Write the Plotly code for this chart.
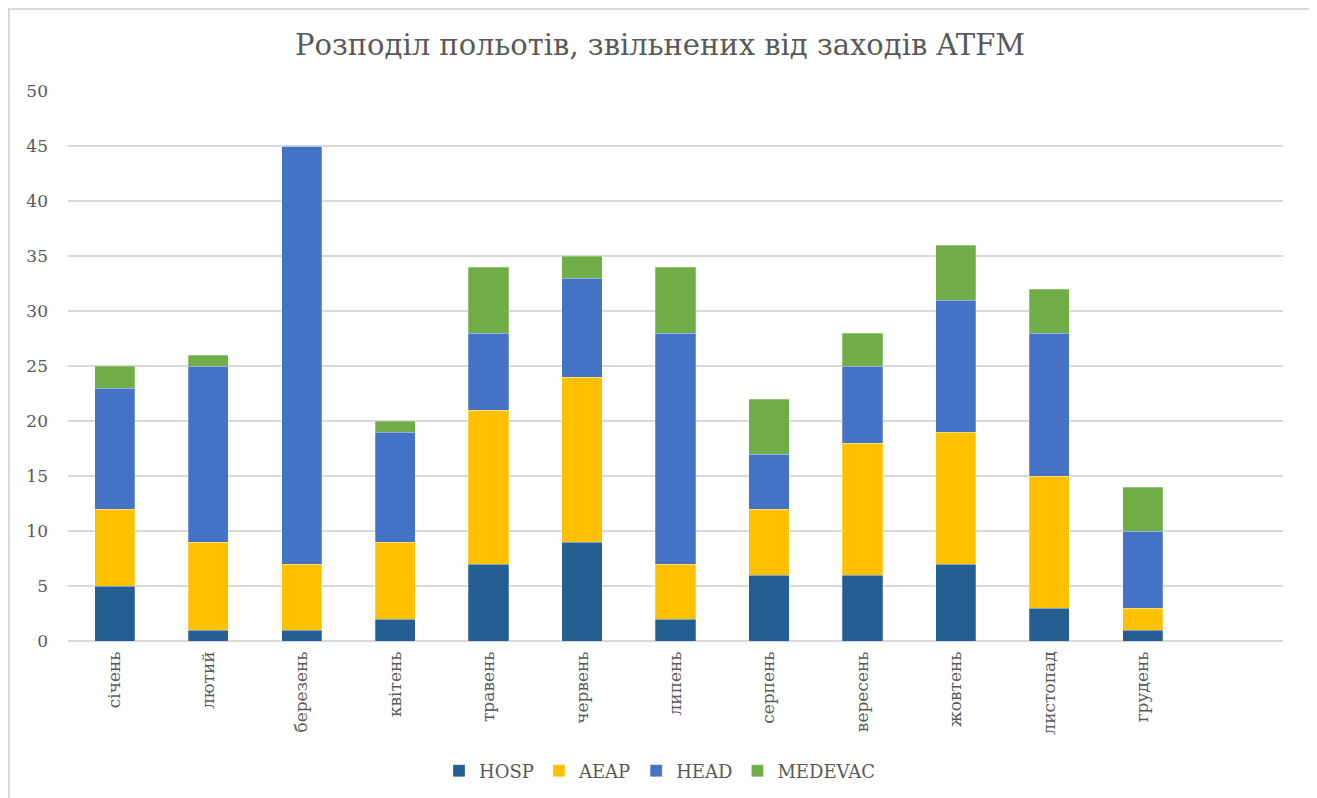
import plotly.graph_objects as go

months = ["січень", "лютий", "березень", "квітень", "травень", "червень",
          "липень", "серпень", "вересень", "жовтень", "листопад", "грудень"]
hosp = [5, 1, 1, 2, 7, 9, 2, 6, 6, 7, 3, 1]
aeap = [7, 8, 6, 7, 14, 15, 5, 6, 12, 12, 12, 2]
head = [11, 16, 38, 10, 7, 9, 21, 5, 7, 12, 13, 7]
medevac = [2, 1, 0, 1, 6, 2, 6, 5, 3, 5, 4, 4]

series = [("HOSP", hosp, "#255E91"), ("AEAP", aeap, "#FFC000"),
          ("HEAD", head, "#4472C4"), ("MEDEVAC", medevac, "#70AD47")]

fig = go.Figure()
for name, vals, col in series:
    fig.add_trace(go.Bar(x=list(range(len(months))), y=vals, name=name,
                         marker=dict(color=col, line=dict(color="rgba(255,255,255,0.5)", width=0.5))))

font = "DejaVu Serif"
off = 8  # page body margin
W, H = 1317 - off, 798 - off
L, R, T, B = 68 - off, 1317 - 1283, 91 - off, 798 - 641
pw, ph = W - L - R, H - T - B

fig.update_layout(
    width=W, height=H, barmode="stack", bargap=0.57,
    plot_bgcolor="white", paper_bgcolor="white",
    margin=dict(l=L, r=R, t=T, b=B, autoexpand=False),
    font=dict(family=font, color="#595959", size=17),
    title=dict(text="Розподіл польотів, звільнених від заходів ATFM",
               x=(660 - off) / W, xanchor="center", y=1 - (45 - off) / H, yanchor="middle",
               font=dict(family=font, size=29, color="#595959")),
    xaxis=dict(tickmode="array", tickvals=list(range(len(months))), ticktext=months,
               range=[-0.5, 12.5], tickangle=-90, showgrid=False, showline=False,
               ticks="", automargin=False, ticklabelstandoff=6,
               tickfont=dict(family=font, size=17, color="#595959")),
    yaxis=dict(range=[0, 50], dtick=5, showgrid=True, gridcolor="#D9D9D9", gridwidth=1.5,
               zeroline=True, zerolinecolor="#D9D9D9", zerolinewidth=1.5, automargin=False,
               ticks="", tickfont=dict(family=font, size=17, color="#595959"), ticklabelstandoff=19),
    legend=dict(orientation="h", x=(660 - 68) / pw, xanchor="center", y=-(771 - 641) / ph, yanchor="middle",
                font=dict(family=font, size=18, color="#595959"), traceorder="normal"),
    shapes=[dict(type="rect", xref="paper", yref="paper",
                 x0=(9 - 68) / pw, x1=(1310 - 68) / pw,
                 y0=(641 - 805) / ph, y1=(641 - 9) / ph,
                 line=dict(color="#D9D9D9", width=2), fillcolor="rgba(0,0,0,0)", layer="above")],
)

fig.write_html("out.html")
